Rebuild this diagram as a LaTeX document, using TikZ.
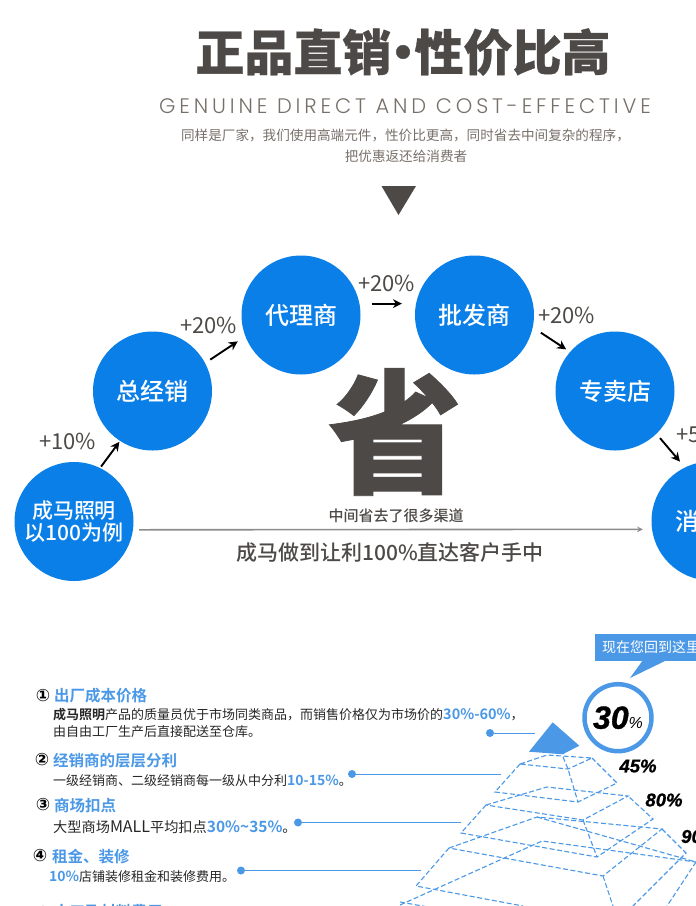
\documentclass[tikz,border=0pt]{standalone}
\usepackage{fontspec}
\usetikzlibrary{arrows.meta}
\setmainfont{Noto Sans CJK SC}[BoldFont={Noto Sans CJK SC Bold}]
\newfontfamily\heavyfont{Noto Sans CJK SC Black}[FakeBold=0.6]
\newfontfamily\medfont{Noto Sans CJK SC Medium}
\newfontfamily\thinfont{Poppins Light}[LetterSpace=18.4]
\newfontfamily\ringfont{DejaVu Sans}
\newfontfamily\pctfont{Liberation Sans}[BoldItalicFeatures={FakeBold=1}]
\newcommand{\fsz}[1]{\fontsize{#1}{#1}\selectfont}
\definecolor{stagecol}{HTML}{0A7FE8}
\definecolor{darkcol}{HTML}{4D4946}
\definecolor{softcol}{HTML}{777069}
\definecolor{linecol}{HTML}{4A98E6}
\tikzset{
	stagenode/.style={circle, fill=stagecol, text=white, inner sep=0pt, minimum size=119pt, align=center, font=\medfont\fsz{24}},
	markup/.style={text=darkcol, inner sep=0pt, anchor=west, font=\fsz{22}},
	stagearrow/.style={-{Stealth[length=9pt,width=9pt]}, line width=1.9pt, black},
	headline/.style={text=linecol, inner sep=0pt, anchor=west, font=\fsz{15.5}\bfseries},
	bodyline/.style={text=black!85, inner sep=0pt, anchor=west, font=\fsz{13}},
	numdot/.style={text=black, inner sep=0pt, font=\ringfont\bfseries\fsz{17}},
	leaddot/.style={circle, fill=linecol, inner sep=0pt, minimum size=8pt},
	leadline/.style={linecol, line width=1pt},
	tierline/.style={linecol, dashed, line width=1.1pt, dash pattern=on 5pt off 2.5pt},
	pctnode/.style={inner sep=0pt, text=black, font=\pctfont\bfseries\itshape\fsz{18.5}},
}
\begin{document}
\begin{tikzpicture}[x=1pt, y=-1pt]
	
	\useasboundingbox (0,0) rectangle (696,906);
	\clip (0,0) rectangle (696,906);
	
	% Title block
	\node [text=darkcol, inner sep=0pt, font=\heavyfont\fsz{49}] (title) at (403,52) {正品直销\kern-13pt•\kern-13pt性价比高};
	
	\node [text=softcol, inner sep=0pt, font=\thinfont\fsz{21}] (subtitle) at (405,106) {GENUINE DIRECT AND COST-EFFECTIVE};
	
	\node [text=softcol, inner sep=0pt, font=\fsz{13.6}] (intro1) at (405.5,135) {同样是厂家，我们使用高端元件，性价比更高，同时省去中间复杂的程序，};
	
	\node [text=softcol, inner sep=0pt, font=\fsz{13.6}] (intro2) at (406,156) {把优惠返还给消费者};
	
	\fill [darkcol] (381.5,186) -- (416,186) -- (398.5,215) -- cycle;
	
	% Stages
	\node [stagenode, font=\medfont\fontsize{21}{22}\selectfont] (maker) at (74,521.5) {成马照明\\以100为例};
	
	\node [stagenode] (dealer) at (152.5,391) {总经销};
	
	\node [stagenode] (agent) at (301,315) {代理商};
	
	\node [stagenode] (wholesale) at (474.5,315) {批发商};
	
	\node [stagenode] (shop) at (615,391) {专卖店};
	
	\node [stagenode] (buyer) at (711,521) {消费者};
	
	\draw [stagearrow, shorten <=1.5pt, shorten >=1pt] (maker.64) -- (dealer.237);
	
	\draw [stagearrow, shorten <=6pt, shorten >=9pt] (dealer.28) -- (agent.201);
	
	\draw [stagearrow, shorten <=12pt, shorten >=14pt] (agent.11.3) -- (wholesale.169);
	
	\draw [stagearrow, shorten <=9.5pt, shorten >=4.5pt] (wholesale.-12.6) -- (shop.139);
	
	\draw [stagearrow, shorten <=5.5pt, shorten >=7.5pt] (shop.-46) -- (buyer.116.6);
	
	\node [markup] (plus1) at (39,441) {+10\%};
	
	\node [markup] (plus2) at (180,325) {+20\%};
	
	\node [markup] (plus3) at (358,283) {+20\%};
	
	\node [markup] (plus4) at (538,315) {+20\%};
	
	\node [markup] (plus5) at (676,434) {+50\%};
	
	% Saving
	\node [text=darkcol, inner sep=0pt, font=\heavyfont\fsz{134}] (save) at (395,432) {省};
	
	\node [text=darkcol, inner sep=0pt, font=\medfont\fsz{15}] (skip) at (396,516) {中间省去了很多渠道};
	
	\draw [-stealth, black!45, line width=1.6pt, shorten <=6pt, shorten >=9pt] (maker.-8) -- (buyer.188.3);
	
	\node [text=darkcol, inner sep=0pt, font=\medfont\fsz{21}] (direct) at (390,552) {成马做到让利100\%直达客户手中};
	
	% Cost list
	\node [numdot] (num1) at (43,696) {①};
	
	\node [headline] (head1) at (54,696) {出厂成本价格};
	
	\node [bodyline] (body1a) at (53,715) {\textbf{成马照明}产品的质量员优于市场同类商品，而销售价格仅为市场价的\textcolor{linecol}{\fsz{14.5}\textbf{30\%-60\%}}，};
	
	\node [bodyline] (body1b) at (53,732) {由自由工厂生产后直接配送至仓库。};
	
	\node [numdot] (num2) at (42,760) {②};
	
	\node [headline] (head2) at (53,761) {经销商的层层分利};
	
	\node [bodyline] (body2) at (53,780.5) {一级经销商、二级经销商每一级从中分利\textcolor{linecol}{\fsz{14}\textbf{10-15\%}}。};
	
	\node [numdot] (num3) at (43,805) {③};
	
	\node [headline] (head3) at (54,805.5) {商场扣点};
	
	\node [bodyline, font=\fsz{14.2}] (body3) at (53,827) {大型商场{\fsz{16}MALL}平均扣点\textcolor{linecol}{\fsz{15.5}\textbf{30\%\textasciitilde35\%}}。};
	
	\node [numdot] (num4) at (40,856) {④};
	
	\node [headline] (head4) at (52,857) {租金、装修};
	
	\node [bodyline] (body4) at (49,877) {\textcolor{linecol}{\fsz{14}\textbf{10\%}}店铺装修租金和装修费用。};
	
	\node [numdot] (num5) at (43,913) {⑤};
	
	\node [headline] (head5) at (54,912) {人工及材料费用};
	
	% Leaders
	\node [leaddot] (dot1) at (490,733) {};
	
	\coordinate (end1) at (535,733);
	
	\draw [leadline] (dot1) -- (end1);
	
	\node [leaddot] (dot2) at (352,774) {};
	
	\coordinate (end2) at (501,774);
	
	\draw [leadline] (dot2) -- (end2);
	
	\node [leaddot] (dot3) at (298,822.5) {};
	
	\coordinate (end3) at (461,822.5);
	
	\draw [leadline] (dot3) -- (end3);
	
	\node [leaddot] (dot4) at (241,870.5) {};
	
	\coordinate (end4) at (421,870.5);
	
	\draw [leadline] (dot4) -- (end4);
	
	% Pyramid
	\fill [linecol] (552.7,722.3) -- (579.3,745.7) -- (562.7,754.3) -- (529,751.7) -- cycle;
	
	\draw [tierline] (520,764) -- (547,755) -- (592,758) -- (568,769) -- cycle;
	
	\draw [tierline] (520,764) -- (495,792) -- (578,802) -- (617,783) -- (592,758);
	
	\draw [tierline] (563,757) -- (568,769) -- (578,802);
	
	\draw [tierline] (486,805) -- (547,787) -- (628,796) -- (583,820) -- cycle;
	
	\draw [tierline] (486,805) -- (461,833) -- (597,857) -- (653,819) -- (628,796);
	
	\draw [tierline] (583,820) -- (597,857);
	
	\draw [tierline] (449,848) -- (537,817) -- (662,829) -- (603,876) -- cycle;
	
	\draw [tierline] (449,848) -- (416,886) -- (523,906);
	
	\draw [tierline] (662,829) -- (686,853) -- (633,906);
	
	\draw [tierline] (603,876) -- (613,906);
	
	\draw [tierline] (537,817) -- (696,862) -- (667,906);
	
	\draw [tierline] (400,905) -- (542,841) -- (696,862);
	
	\draw [tierline] (400,902) -- (445,910);
	
	% Callout and ring
	\fill [linecol] (643,660) -- (630,678) -- (667,660) -- cycle;
	
	\node [fill=linecol, text=white, inner sep=7pt, anchor=west, minimum height=27pt, font=\fsz{14}] (callout) at (595,647.5) {现在您回到这里};
	
	\node [circle, draw=linecol, line width=4.5pt, inner sep=0pt, minimum size=67pt, text=black] (ring) at (618,717.7) {\pctfont\itshape{\bfseries\fsz{32}30}\fsz{16}\%};
	
	\node [pctnode] (pct45) at (638,766) {45\%};
	
	\node [pctnode] (pct80) at (664,800) {80\%};
	
	\node [pctnode, anchor=west] (pct90) at (681,836.5) {90\%};
	
\end{tikzpicture}
\end{document}
